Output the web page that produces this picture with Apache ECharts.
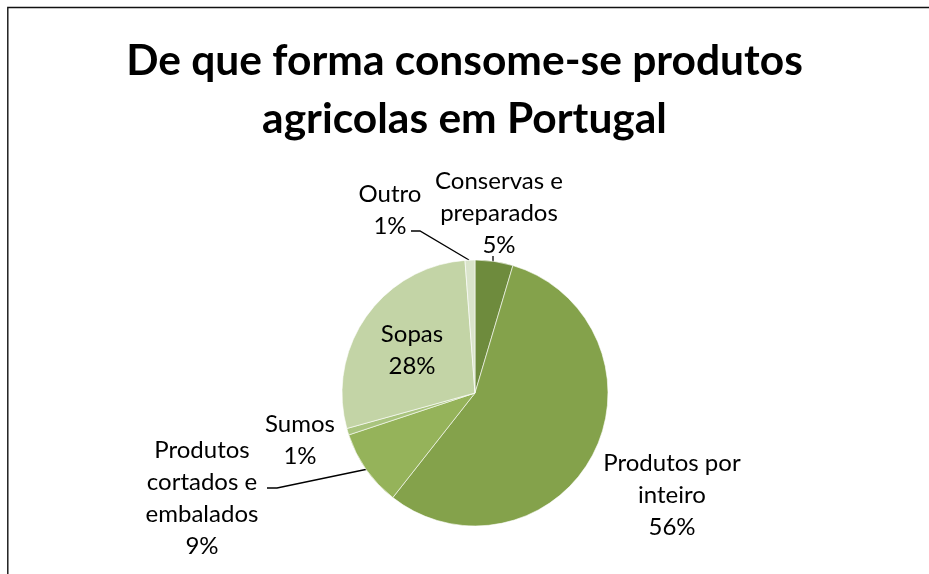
<!DOCTYPE html>
<html>
<head>
<meta charset="utf-8">
<script src="https://cdn.jsdelivr.net/npm/echarts@6/dist/echarts.min.js"></script>
<style>html,body{margin:0;padding:0;background:#fff;overflow:hidden;}#c{width:929px;height:574px;}</style>
</head>
<body>
<div id="c"></div>
<script>
const titleText = 'De que forma consome-se produtos\nagricolas em Portugal';
const categories = ['Conservas e\npreparados', 'Produtos por\ninteiro', 'Produtos\ncortados e\nembalados', 'Sumos', 'Sopas', 'Outro'];
const values = [4.6, 56.0, 9.3, 0.8, 28.1, 1.2];
const colors = ['#6E8B3D', '#84A24B', '#95B35A', '#A9C47E', '#C3D4A6', '#DAE4CB'];

// label placement (block centres) and leader lines, per slice
const labelSpots = [
  {x: 499, y: 213, line: [[493, 256], [493, 256], [493, 262]]},
  {x: 672, y: 495, line: null},
  {x: 202, y: 498, line: [[267, 488], [277, 488], [368, 469]]},
  {x: 300, y: 440, line: null},
  {x: 412, y: 350, line: null},
  {x: 390, y: 210, line: [[411, 231], [420, 231], [469, 260]]}
];

const chart = echarts.init(document.getElementById('c'), null, {renderer: 'canvas'});
const fontFam = 'Lato, "Liberation Sans", sans-serif';
chart.setOption({
  animation: false,
  backgroundColor: '#fff',
  title: {
    text: titleText,
    left: 'center',
    top: 27,
    textStyle: {fontFamily: fontFam, fontWeight: 'bold', fontSize: 42.5, lineHeight: 58, color: '#000'}
  },
  graphic: [{
    type: 'polyline',
    shape: {points: [[7.8, 600], [7.8, 7.5], [960, 7.5]]},
    style: {fill: null, stroke: '#111', lineWidth: 1.4},
    silent: true
  }],
  series: [{
    type: 'pie',
    center: [475, 393],
    radius: 133,
    startAngle: 90,
    clockwise: true,
    percentPrecision: 0,
    itemStyle: {borderColor: '#fff', borderWidth: 0.6},
    data: categories.map((c, i) => ({
      name: c, value: values[i], itemStyle: {color: colors[i]},
      labelLine: {show: !!labelSpots[i].line}
    })),
    label: {
      show: true,
      position: 'outside',
      formatter: '{b}\n{d}%',
      fontFamily: fontFam,
      fontSize: 24,
      lineHeight: 32,
      color: '#000',
      align: 'center'
    },
    labelLine: {show: true, length: 5, length2: 5, lineStyle: {color: '#000', width: 1.3}},
    labelLayout: function (p) {
      const s = labelSpots[p.dataIndex];
      const o = {x: s.x, y: s.y, align: 'center', verticalAlign: 'middle'};
      if (s.line) o.labelLinePoints = s.line;
      return o;
    }
  }]
});
</script>
</body>
</html>
